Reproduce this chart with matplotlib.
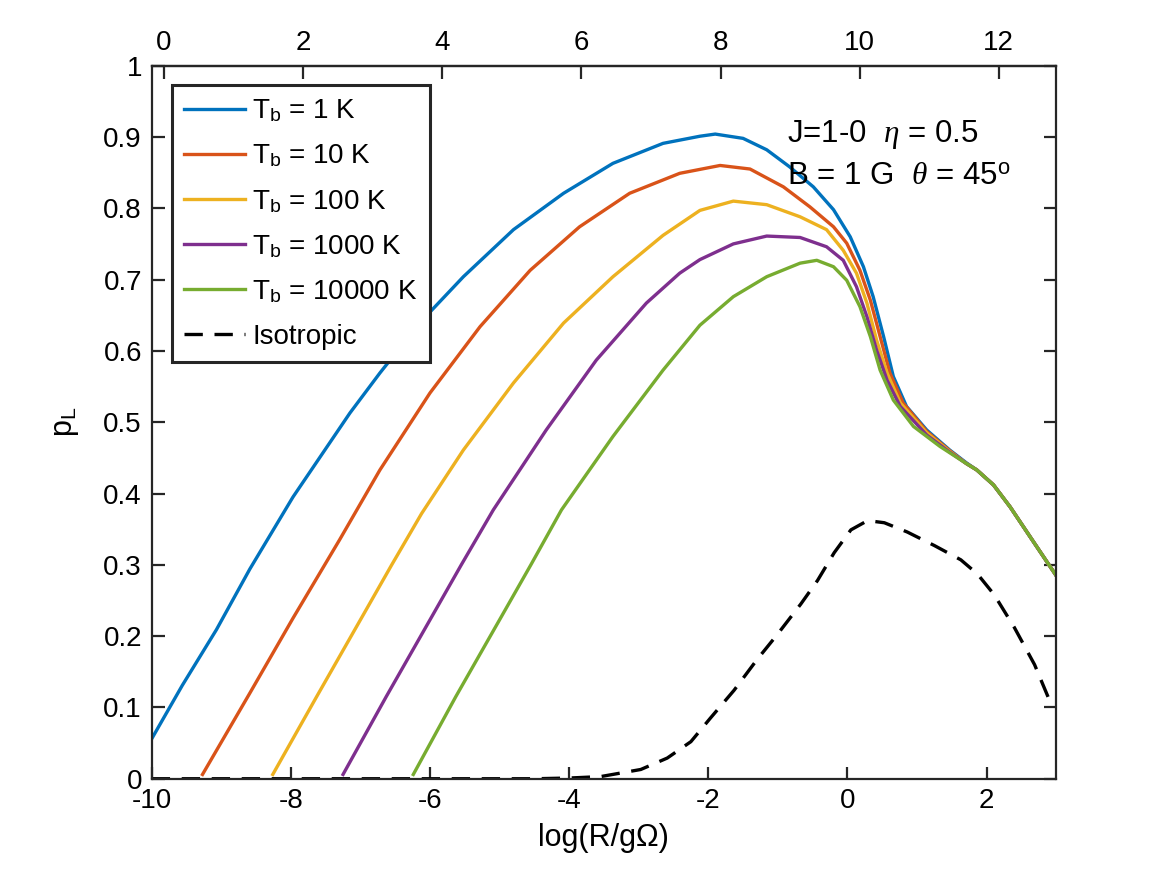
import numpy as np
import matplotlib
matplotlib.use('Agg')
import matplotlib.pyplot as plt

plt.rcParams['font.family'] = ['Liberation Sans', 'DejaVu Sans']
plt.rcParams['mathtext.fontset'] = 'custom'
plt.rcParams['mathtext.rm'] = 'Liberation Sans'
plt.rcParams['mathtext.it'] = 'Liberation Serif:italic'
plt.rcParams['mathtext.bf'] = 'Liberation Sans:bold'
plt.rcParams['axes.unicode_minus'] = False

# Curves: x = log(R/gOmega), y = p_L
x_1K = [-10.0, -9.56, -9.07, -8.59, -7.97, -7.15, -6.72, -6.15, -5.52, -4.80, -4.08, -3.37,
        -2.65, -2.12, -1.90, -1.50, -1.16, -0.83, -0.49, -0.20, 0.04, 0.23, 0.37, 0.52, 0.66,
        0.85, 1.14, 1.47, 1.71, 1.86, 2.10, 2.34, 2.69, 3.0]
y_1K = [0.056, 0.131, 0.209, 0.294, 0.395, 0.513, 0.569, 0.639, 0.704, 0.770, 0.821, 0.863,
        0.891, 0.901, 0.904, 0.898, 0.882, 0.858, 0.830, 0.798, 0.760, 0.718, 0.676, 0.620, 0.564,
        0.522, 0.489, 0.461, 0.443, 0.433, 0.412, 0.381, 0.330, 0.285]

x_10K = [-9.27, -8.59, -7.97, -7.30, -6.72, -6.00, -5.28, -4.56, -3.85, -3.13, -2.41, -1.83,
         -1.40, -0.92, -0.54, -0.20, -0.01, 0.18, 0.33, 0.47, 0.61, 0.80, 1.14, 1.47, 1.71,
         1.86, 2.10, 2.34, 2.69, 3.0]
y_10K = [0.006, 0.120, 0.225, 0.335, 0.433, 0.541, 0.634, 0.713, 0.774, 0.821, 0.849, 0.860,
         0.855, 0.830, 0.802, 0.774, 0.751, 0.713, 0.671, 0.620, 0.569, 0.527, 0.487, 0.460, 0.442,
         0.433, 0.412, 0.381, 0.330, 0.285]

x_100K = [-8.26, -7.63, -6.97, -6.55, -6.12, -5.52, -4.80, -4.08, -3.37, -2.65, -2.12, -1.64,
          -1.16, -0.68, -0.30, -0.06, 0.13, 0.28, 0.42, 0.57, 0.76, 1.14, 1.47, 1.71, 1.86,
          2.10, 2.34, 2.69, 3.0]
y_100K = [0.006, 0.115, 0.228, 0.300, 0.372, 0.461, 0.555, 0.639, 0.704, 0.762, 0.797, 0.810,
          0.805, 0.788, 0.770, 0.741, 0.709, 0.667, 0.615, 0.569, 0.527, 0.485, 0.459, 0.442,
          0.433, 0.412, 0.381, 0.330, 0.285]

x_1000K = [-7.25, -6.63, -5.97, -5.55, -5.09, -4.33, -3.61, -2.89, -2.41, -2.12, -1.64, -1.16,
           -0.68, -0.30, -0.06, 0.13, 0.28, 0.42, 0.57, 0.76, 1.14, 1.47, 1.71, 1.86, 2.10,
           2.34, 2.69, 3.0]
y_1000K = [0.006, 0.115, 0.228, 0.300, 0.377, 0.489, 0.587, 0.667, 0.709, 0.728, 0.750, 0.761,
           0.759, 0.746, 0.727, 0.690, 0.648, 0.601, 0.559, 0.522, 0.482, 0.458, 0.442, 0.433,
           0.412, 0.381, 0.330, 0.285]

x_10000K = [-6.24, -5.63, -4.97, -4.55, -4.11, -3.37, -2.65, -2.12, -1.64, -1.16, -0.68, -0.44,
            -0.20, -0.01, 0.18, 0.33, 0.47, 0.66, 0.95, 1.33, 1.71, 1.86, 2.10, 2.34, 2.69, 3.0]
y_10000K = [0.006, 0.115, 0.228, 0.300, 0.377, 0.480, 0.573, 0.636, 0.676, 0.704, 0.723, 0.727,
            0.718, 0.699, 0.662, 0.620, 0.573, 0.531, 0.494, 0.466, 0.442, 0.433, 0.412, 0.381,
            0.330, 0.285]

x_iso = [-10.0, -6.0, -4.5, -4.0, -3.55, -2.97, -2.59, -2.25, -1.97, -1.63, -1.30, -1.01, -0.67,
         -0.43, -0.19, 0.05, 0.29, 0.53, 0.86, 1.25, 1.63, 1.87, 2.11, 2.40, 2.69, 2.90, 2.95]
y_iso = [0.0, 0.0, 0.0, 0.001, 0.003, 0.013, 0.029, 0.052, 0.085, 0.124, 0.167, 0.202, 0.245,
         0.278, 0.317, 0.349, 0.362, 0.359, 0.346, 0.327, 0.307, 0.287, 0.258, 0.212, 0.160,
         0.111, 0.108]

labels = [r'T$_{\rm b}$ = 1 K', r'T$_{\rm b}$ = 10 K', r'T$_{\rm b}$ = 100 K',
          r'T$_{\rm b}$ = 1000 K', r'T$_{\rm b}$ = 10000 K', 'Isotropic']
colors = ['#0072BD', '#D95319', '#EDB120', '#7E2F8E', '#77AC30']

top_offset = 9.824  # top axis is shifted relative to the bottom one
axcol = '#262626'

fig = plt.figure(figsize=(11.67, 8.75), dpi=100)
ax = fig.add_axes([0.13, 0.11, 0.775, 0.815])

series = [(x_1K, y_1K), (x_10K, y_10K), (x_100K, y_100K), (x_1000K, y_1000K), (x_10000K, y_10000K)]
for (xs, ys), c, lab in zip(series, colors, labels):
    ax.plot(xs, ys, color=c, linewidth=2.4, label=lab)
ax.plot(x_iso, y_iso, color='black', linewidth=2.4, linestyle=(0, (5.5, 3.5)), label=labels[5])

ax.set_xlim(-10, 3)
ax.set_ylim(0, 1)
ax.set_xticks(np.arange(-10, 3, 2))
ax.set_yticks(np.arange(0, 1.01, 0.1))
ax.set_yticklabels([f'{v:g}' for v in np.arange(0, 1.01, 0.1).round(1)])

for s in ax.spines.values():
    s.set_color(axcol)
    s.set_linewidth(1.6)
ax.tick_params(axis='both', direction='in', length=9, width=1.6, color=axcol,
               labelsize=20, labelcolor='black', pad=7, top=False, right=True)

secax = ax.secondary_xaxis('top', functions=(lambda v: v + top_offset, lambda v: v - top_offset))
secax.set_xticks(np.arange(0, 13, 2))
secax.tick_params(direction='in', length=9, width=1.6, color=axcol, labelsize=20, pad=7)
secax.spines['top'].set_color(axcol)
secax.spines['top'].set_linewidth(1.6)

ax.set_xlabel('log(R/gΩ)', fontsize=22, labelpad=6)
ax.set_ylabel(r'p$_{\rm L}$', fontsize=22, labelpad=16)

ax.text(-0.87, 0.893, r'J=1-0  $\eta$ = 0.5', fontsize=22.5, ha='left', va='baseline')
ax.text(-0.87, 0.833, r'B = 1 G  $\theta$ = 45$^{\rm o}$', fontsize=22.5, ha='left', va='baseline')

leg = ax.legend(loc='upper left', bbox_to_anchor=(0.022, 0.973), borderaxespad=0, fontsize=20,
                handlelength=2.2, handletextpad=0.25, borderpad=0.45, labelspacing=0.66,
                frameon=True, fancybox=False, framealpha=1)
leg.get_frame().set_edgecolor(axcol)
leg.get_frame().set_linewidth(2.2)

fig.savefig('out.png', dpi=100)
